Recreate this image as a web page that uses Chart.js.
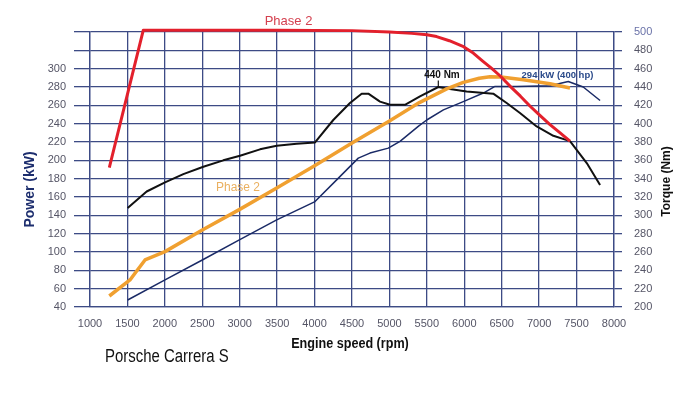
<!DOCTYPE html>
<html>
<head>
<meta charset="utf-8">
<script src="https://cdn.jsdelivr.net/npm/chart.js@4/dist/chart.umd.min.js"></script>
<style>
  html, body { margin: 0; padding: 0; background: #ffffff; }
  #wrap { width: 700px; height: 394px; }
</style>
</head>
<body>
<div id="wrap"><canvas id="c" width="700" height="394"></canvas></div>
<script>
// ---- Tick values ----
const rpmTicks = [1000,1500,2000,2500,3000,3500,4000,4500,5000,5500,6000,6500,7000,7500,8000];
const powerTicks = [40,60,80,100,120,140,160,180,200,220,240,260,280,300,320,340];
const torqueTicks = [200,220,240,260,280,300,320,340,360,380,400,420,440,460,480,500];
const powerLabelMax = 300;

// ---- Series: Phase 2 torque (red, Nm) ----
const redRpm    = [1258, 1712, 2500, 3500, 4500, 5000, 5300, 5500, 5630, 5800, 5990, 6120, 6250, 6370, 6480, 6610, 6750, 6880, 7010, 7145, 7280, 7412];
const redTorque = [352,  502,  502,  502,  501.5, 500, 498.5, 497, 495, 490.5, 484, 477, 468,  460,  452,  441,  430,  419,  409,  399,  390,  381];

// ---- Series: Phase 2 power (orange, kW) ----
const orangeRpm   = [1258, 1534, 1601, 1735, 2002, 2500, 3000, 3500, 4000, 4500, 5000, 5400, 5765, 5987, 6200, 6343, 6490, 6789, 7145, 7412];
const orangePower = [52,   69.5, 76.8, 91.3, 100.4, 124, 146.5, 170, 194,  219,  243,  263,  278,  285,  289.5, 291.2, 291, 288,  283.6, 279];

// ---- Series: torque (black, Nm) ----
const blackRpm    = [1503, 1757, 2002, 2247, 2514, 2781, 3004, 3271, 3494, 3761, 4006, 4250, 4473, 4629, 4718, 4874, 5007, 5207, 5408, 5653, 5808, 6031, 6387, 6566, 6744, 6967, 7190, 7412, 7636, 7814];
const blackTorque = [308,  326,  336,  345,  353,  360,  365,  372,  376,  378,  379.5, 404, 422.5, 432.7, 432.7, 424, 420.6, 420.6, 429.7, 440, 437.8, 435, 432.7, 422.5, 411.6, 397, 386.8, 381, 357, 333];

// ---- Series: power (navy, kW) ----
const navyRpm   = [1503, 2002, 2500, 2995, 3494, 4006, 4295, 4584, 4740, 4985, 5141, 5385, 5498, 5721, 5987, 6254, 6410, 6700, 7145, 7389, 7589, 7814];
const navyPower = [47.6, 69.5, 91.3, 113.2, 135, 155, 178.7, 202.4, 207.9, 213.3, 220.6, 237, 244, 255, 264, 273.4, 280.6, 280.6, 281.4, 286, 280, 265.3];

const zip = (xs, ys) => xs.map((v, i) => ({ x: v, y: ys[i] }));

const GRID = '#3d4b85';
const TICK_FONT = { family: '"Liberation Sans", Arial, sans-serif', size: 11 };

const textPlugin = {
  id: 'texts',
  afterDraw(chart) {
    const { ctx, chartArea: a, scales } = chart;
    const sx = scales.x, sy = scales.y, sy2 = scales.y2;
    ctx.save();
    ctx.textAlign = 'center';
    ctx.textBaseline = 'middle';

    // Power (kW) left title
    ctx.save();
    ctx.translate(a.left - 60, (a.top + a.bottom) / 2 + 20);
    ctx.rotate(-Math.PI / 2);
    ctx.font = 'bold 14px "Liberation Sans", Arial, sans-serif';
    ctx.fillStyle = '#1d2e6e';
    ctx.fillText('Power (kW)', 0, 0);
    ctx.restore();

    // Torque (Nm) right title
    ctx.save();
    ctx.translate(a.right + 53, (a.top + a.bottom) / 2 + 12);
    ctx.rotate(-Math.PI / 2);
    ctx.font = 'bold 12px "Liberation Sans", Arial, sans-serif';
    ctx.fillStyle = '#111111';
    ctx.fillText('Torque (Nm)', 0, 0);
    ctx.restore();

    // Engine speed (rpm)
    ctx.save();
    ctx.translate((a.left + a.right) / 2 - 2, a.bottom + 37);
    ctx.scale(0.9, 1);
    ctx.font = 'bold 14px "Liberation Sans", Arial, sans-serif';
    ctx.fillStyle = '#111111';
    ctx.fillText('Engine speed (rpm)', 0, 0);
    ctx.restore();

    // Porsche Carrera S
    ctx.save();
    ctx.translate(a.left + 15, a.bottom + 50);
    ctx.scale(0.83, 1);
    ctx.textAlign = 'left';
    ctx.font = '18px "Liberation Sans", Arial, sans-serif';
    ctx.fillStyle = '#111111';
    ctx.fillText('Porsche Carrera S', 0, 0);
    ctx.restore();

    // Phase 2 (red)
    ctx.font = '13px "Liberation Sans", Arial, sans-serif';
    ctx.fillStyle = '#d4404f';
    ctx.fillText('Phase 2', sx.getPixelForValue(3652), sy2.getPixelForValue(511));

    // Phase 2 (orange)
    ctx.font = '12px "Liberation Sans", Arial, sans-serif';
    ctx.fillStyle = '#eab060';
    ctx.fillText('Phase 2', sx.getPixelForValue(2977), sy.getPixelForValue(170));

    // 440 Nm
    ctx.font = 'bold 10px "Liberation Sans", Arial, sans-serif';
    ctx.fillStyle = '#111111';
    ctx.fillText('440 Nm', sx.getPixelForValue(5702), sy2.getPixelForValue(453));
    ctx.strokeStyle = '#111111';
    ctx.lineWidth = 1.2;
    ctx.beginPath();
    ctx.moveTo(sx.getPixelForValue(5653), sy2.getPixelForValue(447));
    ctx.lineTo(sx.getPixelForValue(5653), sy2.getPixelForValue(440));
    ctx.stroke();

    // 294 kW (400 hp)
    ctx.font = 'bold 9.5px "Liberation Sans", Arial, sans-serif';
    ctx.fillStyle = '#2a4a8a';
    ctx.fillText('294 kW (400 hp)', sx.getPixelForValue(7245), sy.getPixelForValue(293));

    ctx.restore();
  }
};

const setTicks = arr => scale => { scale.ticks = arr.map(v => ({ value: v })); };

new Chart(document.getElementById('c'), {
  type: 'line',
  data: {
    datasets: [
      { label: 'Torque Phase 2', data: zip(redRpm, redTorque), yAxisID: 'y2',
        borderColor: '#e3202c', borderWidth: 3, tension: 0, clip: false },
      { label: 'Power Phase 2', data: zip(orangeRpm, orangePower), yAxisID: 'y',
        borderColor: '#f0a030', borderWidth: 3.5, tension: 0 },
      { label: 'Torque', data: zip(blackRpm, blackTorque), yAxisID: 'y2',
        borderColor: '#111111', borderWidth: 2, tension: 0 },
      { label: 'Power', data: zip(navyRpm, navyPower), yAxisID: 'y',
        borderColor: '#1a2a66', borderWidth: 1.5, tension: 0 }
    ]
  },
  options: {
    responsive: false,
    animation: false,
    devicePixelRatio: 1,
    elements: { point: { radius: 0 }, line: { borderCapStyle: 'butt', borderJoinStyle: 'round' } },
    layout: { padding: { top: 32, bottom: 57, left: 0, right: 0 } },
    plugins: { legend: { display: false }, tooltip: { enabled: false }, title: { display: false } },
    scales: {
      x: {
        type: 'linear', position: 'bottom', min: 1000, max: 8000,
        afterBuildTicks: setTicks(rpmTicks),
        afterFit: s => { s.height = 30; },
        grid: { color: GRID, lineWidth: 1.3, drawTicks: false },
        border: { color: GRID, width: 1.3 },
        ticks: { font: TICK_FONT, color: '#555566', padding: 10, maxRotation: 0, autoSkip: false,
                 callback: v => String(v) }
      },
      y: {
        type: 'linear', position: 'left', min: 40, max: 340,
        afterBuildTicks: setTicks(powerTicks),
        afterFit: s => { s.width = 90; },
        grid: { color: GRID, lineWidth: 1.3, drawTicks: true, tickLength: 16 },
        border: { color: GRID, width: 1.3 },
        ticks: { font: TICK_FONT, color: '#555566', padding: 8, autoSkip: false,
                 callback: v => (v > powerLabelMax ? '' : String(v)) }
      },
      y2: {
        type: 'linear', position: 'right', min: 200, max: 500,
        afterBuildTicks: setTicks(torqueTicks),
        afterFit: s => { s.width = 86; },
        grid: { color: GRID, lineWidth: 1.3, drawOnChartArea: false, drawTicks: true, tickLength: 8 },
        border: { color: GRID, width: 1.3 },
        ticks: { font: TICK_FONT, padding: 12, autoSkip: false, callback: v => String(v),
                 color: ctx => (ctx.tick && ctx.tick.value === 500 ? '#6a72a8' : '#555566') }
      }
    }
  },
  plugins: [textPlugin]
});
</script>
</body>
</html>
